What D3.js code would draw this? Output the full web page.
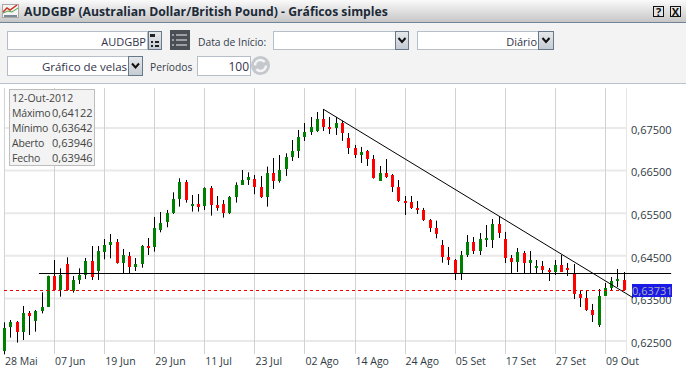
<!DOCTYPE html>
<html>
<head>
<meta charset="utf-8">
<script src="https://cdn.jsdelivr.net/npm/d3@7"></script>
<style>
  html, body { margin: 0; padding: 0; background: #fff; }
  svg { display: block; }
  text { font-family: "Open Sans", "Noto Sans", sans-serif; font-size: 10.5px; }
</style>
</head>
<body>
<div id="chart"></div>
<script>
// Candle values, one entry per trading day
const opens = [
  .62249, .62813, .62938, .62696, .63149, .62969, .63204, .63306, .64026, .63697,
  .64300, .63681, .63932, .64049, .64378, .64151, .64589, .64753, .64824, .64339,
  .64495, .64237, .64307, .64730, .64707, .65106, .65294, .65498, .65834, .66233,
  .65670, .65717, .65654, .66092, .65693, .65717, .65505, .65881, .66163, .66280,
  .66303, .66116, .65881, .66444, .66257, .66538, .66820, .66961, .67289, .67407,
  .67430, .67712, .67524, .67501, .67618, .67266, .67031, .66867, .66961, .66773,
  .66257, .66444, .66397, .66116, .65787, .65764, .65623, .65576, .65341, .65153,
  .64754, .64472, .64401, .64096, .64519, .64824, .64613, .64871, .64871, .65247,
  .64894, .64448, .64355, .64566, .64331, .64214, .64261, .64167, .64120, .64284,
  .64214, .64097, .63604, .63510, .63228, .62876, .63557, .63744, .63909, .63932];
const closes = [
  .62797, .62938, .62696, .63149, .63071, .63204, .63298, .64026, .63697, .64049,
  .63681, .63932, .64049, .64378, .64010, .64613, .64753, .64824, .64339, .64519,
  .64245, .64307, .64730, .64683, .65153, .65270, .65498, .65834, .66233, .65810,
  .65717, .65646, .66084, .65693, .65623, .65505, .65881, .66163, .66280, .66350,
  .66116, .65881, .66444, .66257, .66515, .66820, .66961, .67289, .67407, .67524,
  .67712, .67524, .67477, .67618, .67383, .67031, .66867, .66937, .66773, .66327,
  .66444, .66350, .66116, .65787, .65740, .65623, .65576, .65341, .65153, .65012,
  .64472, .64401, .64096, .64519, .64824, .64613, .64894, .64918, .65247, .65035,
  .64448, .64355, .64589, .64331, .64401, .64261, .64167, .64120, .64284, .64120,
  .64167, .63604, .63510, .63228, .63111, .63557, .63744, .63909, .63956, .63697];
const highs = [
  .62938, .62993, .62969, .63322, .63204, .63228, .63642, .64034, .64401, .64206,
  .64464, .64026, .64206, .64448, .64730, .64730, .64894, .65012, .64894, .64660,
  .64589, .64448, .64753, .64918, .65411, .65528, .65576, .65990, .66319, .66280,
  .65928, .65951, .66108, .66139, .65904, .65810, .65904, .66225, .66515, .66460,
  .66397, .66374, .66593, .66796, .66867, .66906, .67219, .67454, .67618, .67759,
  .67876, .67947, .67759, .67759, .67673, .67383, .67102, .67055, .66984, .66867,
  .66609, .66773, .66421, .66280, .65904, .65904, .65787, .65623, .65364, .65325,
  .64871, .64707, .64425, .64613, .64988, .64941, .65035, .65223, .65364, .65434,
  .65059, .64519, .64683, .64613, .64613, .64401, .64378, .64214, .64401, .64519,
  .64331, .64308, .63697, .63697, .63369, .63721, .63862, .64003, .64190, .64120];
const lows = [
  .62187, .62578, .62461, .62523, .62641, .62719, .63149, .63306, .63681, .63541,
  .63681, .63635, .63838, .63955, .63932, .63932, .64417, .64440, .64315, .64088,
  .64088, .64143, .64221, .64519, .64597, .65051, .65169, .65482, .65654, .65748,
  .65537, .65537, .65576, .65443, .65560, .65396, .65482, .65748, .66163, .66163,
  .65944, .65857, .65654, .66069, .66217, .66374, .66726, .66796, .67196, .67336,
  .67407, .67430, .67360, .67336, .67196, .66890, .66796, .66679, .66609, .66311,
  .66257, .66327, .65998, .65764, .65458, .65599, .65482, .65318, .65059, .64910,
  .64339, .64284, .63932, .63932, .64472, .64542, .64519, .64707, .64683, .64918,
  .64331, .64088, .64120, .64088, .64096, .64096, .64096, .63909, .64049, .64120,
  .64026, .63486, .63298, .63205, .62946, .62829, .63557, .63674, .63768, .63674];

const priceTicks = [.675, .665, .655, .645, .635, .625];
const dateTicks = [0, 8, 16, 24, 32, 40, 48, 56, 64, 72, 80, 88, 96];
const dateLabels = ["28 Mai", "07 Jun", "19 Jun", "29 Jun", "11 Jul", "23 Jul", "02 Ago",
  "14 Ago", "24 Ago", "05 Set", "17 Set", "27 Set", "09 Out"];

// Drawn lines: [bar index, price] at each end
const supportLine = [[5.5, .6409], [106.5, .6409]];
const trendLine = [[51, .67935], [100.4, .63517]];
const lastPrice = .63697;
const lastPriceLabel = "0,63731";

const infoRows = [["Máximo", "0,64122"], ["Mínimo", "0,63642"], ["Aberto", "0,63946"], ["Fecho", "0,63946"]];

const width = 686, height = 371;
const svg = d3.select("#chart").append("svg").attr("width", width).attr("height", height);

const defs = svg.append("defs");
const titleGrad = defs.append("linearGradient").attr("id", "titleGrad").attr("x2", 0).attr("y2", 1);
titleGrad.append("stop").attr("offset", 0).attr("stop-color", "#fafafa");
titleGrad.append("stop").attr("offset", 1).attr("stop-color", "#c6c6c6");
const btnGrad = defs.append("linearGradient").attr("id", "btnGrad").attr("x2", 0).attr("y2", 1);
btnGrad.append("stop").attr("offset", 0).attr("stop-color", "#e6e9ec");
btnGrad.append("stop").attr("offset", 1).attr("stop-color", "#c4cbd2");

// Window chrome
svg.append("rect").attr("width", width).attr("height", 22).attr("fill", "url(#titleGrad)");
svg.append("rect").attr("y", 22).attr("width", width).attr("height", 1).attr("fill", "#6f8497");
svg.append("rect").attr("y", 23).attr("width", width).attr("height", 60).attr("fill", "#f3f3f3");
svg.append("rect").attr("y", 83).attr("width", width).attr("height", 1).attr("fill", "#b9c3cf");

// Title icon
const icon = svg.append("g");
icon.append("rect").attr("x", 2.5).attr("y", 4.5).attr("width", 16).attr("height", 13).attr("fill", "#f4f4f4").attr("stroke", "#a8a8a8");
icon.append("path").attr("d", "M3 12L7 8L10 10L17 5").attr("fill", "none").attr("stroke", "#d03020").attr("stroke-width", 1.5);
icon.append("path").attr("d", "M3 13L8 11L12 12L18 8").attr("fill", "none").attr("stroke", "#50a040");
icon.append("rect").attr("x", 4).attr("y", 15).attr("width", 13).attr("height", 2).attr("fill", "#7c8a98");
svg.append("text").attr("x", 24).attr("y", 15.5).attr("fill", "#1c2a38")
  .style("font-size", "12.2px").style("font-weight", 700)
  .text("AUDGBP (Australian Dollar/British Pound) - Gráficos simples");

// Help and close buttons
[[653, "?"], [670, "X"]].forEach(([x, label]) => {
  svg.append("rect").attr("x", x + .5).attr("y", 6.5).attr("width", 10).attr("height", 10)
    .attr("fill", "#e4e4e4").attr("stroke", "#111");
  svg.append("text").attr("x", x + 5.5).attr("y", 15.5).attr("text-anchor", "middle")
    .style("font-size", "11px").style("font-weight", 700).attr("fill", "#111").text(label);
});

function field(x, y, w, h, label, size) {
  svg.append("rect").attr("x", x + .5).attr("y", y + .5).attr("width", w).attr("height", h)
    .attr("fill", "#fff").attr("stroke", "#b6bfc8");
  if (label) {
    svg.append("text").attr("x", x + w - 1).attr("y", y + 14.5).attr("text-anchor", "end")
      .attr("fill", "#33334a").style("font-size", size + "px").text(label);
  }
}
function dropBtn(x, y, w, h) {
  svg.append("rect").attr("x", x + .5).attr("y", y + .5).attr("width", w).attr("height", h)
    .attr("fill", "url(#btnGrad)").attr("stroke", "#66788a");
  const cx = x + w / 2 + .5, cy = y + h / 2;
  svg.append("path").attr("d", `M${cx - 3.5} ${cy - 2}L${cx} ${cy + 2}L${cx + 3.5} ${cy - 2}`)
    .attr("fill", "none").attr("stroke", "#111").attr("stroke-width", 2);
}
function caption(x, y, label) {
  svg.append("text").attr("x", x).attr("y", y).attr("fill", "#33404c").style("font-size", "10.3px").text(label);
}

field(7, 31, 140, 18, "AUDGBP", 11);
svg.append("rect").attr("x", 148.5).attr("y", 31.5).attr("width", 13).attr("height", 18)
  .attr("fill", "url(#btnGrad)").attr("stroke", "#66788a");
svg.append("path").attr("d", "M150 34h5v3h-5zM155 41h4v2h-4zM155 45h4v2h-4zM151 41h2v2h-2zM151 45h2v2h-2z").attr("fill", "#222");

svg.append("rect").attr("x", 170).attr("y", 30).attr("width", 20).attr("height", 20).attr("fill", "#4a4f55");
svg.append("path").attr("d", "M176 35h11M176 40h11M176 45h11M172 35h2M172 40h2M172 45h2").attr("stroke", "#f0f0f0").attr("stroke-width", 1.2);

caption(198, 46, "Data de Início:");
field(273, 31, 122, 18);
dropBtn(395, 31, 13, 18);
field(417, 31, 121, 18, "Diário", 11);
dropBtn(538, 31, 15, 18);

field(7, 56, 121, 19, "Gráfico de velas", 11.5);
dropBtn(128, 56, 14, 19);
caption(150, 71, "Períodos");
field(197, 56, 53, 19, "100", 12);
svg.append("circle").attr("cx", 260.5).attr("cy", 65.5).attr("r", 9.5).attr("fill", "#c4c8cc");
svg.append("circle").attr("cx", 260.5).attr("cy", 65.5).attr("r", 5.5).attr("fill", "none")
  .attr("stroke", "#f4f4f4").attr("stroke-width", 2.5).attr("stroke-dasharray", "13 4");

// Scales
const x = d3.scaleLinear().domain([0, 99]).range([4.5, 624.2]);
const y = d3.scaleLinear().domain([.675, .625]).range([128, 341]);
const comma = v => d3.format(".5f")(v).replace(".", ",");

// Gridlines
svg.append("g").selectAll("line").data(priceTicks).join("line")
  .attr("x1", 4).attr("x2", 627)
  .attr("y1", d => y(d)).attr("y2", d => y(d))
  .attr("stroke", "#e9e9e9").attr("stroke-width", 2);
svg.append("g").selectAll("line").data(dateTicks).join("line")
  .attr("x1", d => Math.floor(x(d)) + .5).attr("x2", d => Math.floor(x(d)) + .5)
  .attr("y1", 88).attr("y2", 354)
  .attr("stroke", "#d2d2d2");
svg.append("line").attr("x1", 626.5).attr("x2", 626.5).attr("y1", 88).attr("y2", 354).attr("stroke", "#e6e6e6");

// Axes
const axisR = svg.append("g").attr("transform", "translate(627,0)")
  .call(d3.axisRight(y).tickValues(priceTicks).tickFormat(comma).tickSize(0).tickPadding(4));
axisR.select(".domain").remove();
axisR.selectAll("text").attr("dy", "0.62em").attr("y", -1.5).attr("fill", "#2f3a44")
  .style("font-size", "11px").style("font-family", '"Open Sans"');

const axisB = svg.append("g").attr("transform", "translate(0,354)")
  .call(d3.axisBottom(x).tickValues(dateTicks).tickFormat((d, i) => dateLabels[i]).tickSize(0).tickPadding(4));
axisB.select(".domain").remove();
axisB.selectAll("text").attr("text-anchor", "start").attr("fill", "#2f3a44")
  .style("font-size", "10.5px").style("font-family", '"Open Sans"');

// Candles
const candles = svg.append("g").selectAll("g").data(d3.range(opens.length)).join("g");
candles.append("line")
  .attr("x1", i => Math.floor(x(i)) + .5).attr("x2", i => Math.floor(x(i)) + .5)
  .attr("y1", i => y(highs[i])).attr("y2", i => y(lows[i]))
  .attr("stroke", "#000");
candles.append("rect")
  .attr("x", i => Math.floor(x(i)) - 1)
  .attr("width", 3)
  .attr("y", i => Math.round(y(Math.max(opens[i], closes[i]))))
  .attr("height", i => Math.max(2, Math.round(Math.abs(y(opens[i]) - y(closes[i])))))
  .attr("fill", i => closes[i] >= opens[i] ? "#008000" : "#ff0000");

// Drawn lines
const pen = d3.line().x(d => x(d[0])).y(d => y(d[1]));
svg.append("line").attr("x1", 4).attr("x2", 627).attr("y1", Math.round(y(lastPrice)) + .5).attr("y2", Math.round(y(lastPrice)) + .5)
  .attr("stroke", "#f00000").attr("stroke-dasharray", "3 3");
svg.append("line").attr("x1", x(supportLine[0][0])).attr("x2", x(supportLine[1][0]))
  .attr("y1", Math.round(y(supportLine[0][1])) + .5).attr("y2", Math.round(y(supportLine[1][1])) + .5).attr("stroke", "#000");
svg.append("path").attr("d", pen(trendLine)).attr("fill", "none").attr("stroke", "#000");

// Last price tag
svg.append("rect").attr("x", 632).attr("y", y(lastPrice) - 6).attr("width", 40).attr("height", 13).attr("fill", "#1a1ae6");
svg.append("text").attr("x", 632).attr("y", y(lastPrice) + 5).attr("fill", "#b0b0b8")
  .style("font-size", "11px").text(lastPriceLabel);

// Info box
const info = svg.append("g");
info.append("rect").attr("x", 9.5).attr("y", 89.5).attr("width", 85).attr("height", 76)
  .attr("fill", "#f2f2f2").attr("fill-opacity", .92).attr("stroke", "#bdbdbd");
info.append("text").attr("x", 12).attr("y", 102).attr("fill", "#444").text("12-Out-2012");
infoRows.forEach((row, i) => {
  const ty = 117 + i * 15;
  info.append("text").attr("x", 12).attr("y", ty).attr("fill", "#444").style("letter-spacing", "-0.2px").text(row[0]);
  info.append("text").attr("x", 52).attr("y", ty).attr("fill", "#444").style("font-size", "11px").text(row[1]);
});
</script>
</body>
</html>
